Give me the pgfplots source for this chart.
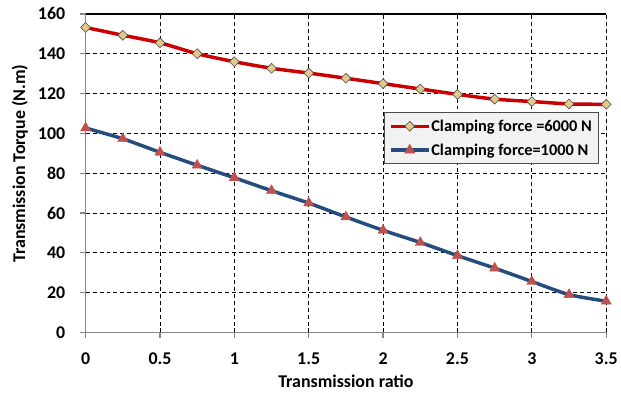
\documentclass[border=0pt]{standalone}
\usepackage{fontspec}
\setmainfont{Carlito}
\usepackage{pgfplots}
\pgfplotsset{compat=1.18}
\definecolor{redline}{RGB}{204,0,0}
\definecolor{blueline}{RGB}{36,76,124}
\definecolor{trifill}{RGB}{192,80,77}
\definecolor{diafill}{RGB}{228,200,140}
\definecolor{axgray}{RGB}{134,134,134}
\definecolor{legfill}{RGB}{242,242,242}
\begin{document}
\begin{tikzpicture}
\begin{axis}[
  name=ax,
  scale only axis,
  width=523pt, height=320pt,
  xmin=0, xmax=3.5, ymin=0, ymax=160,
  xtick={0,0.5,...,3.5}, ytick={0,20,...,160},
  axis lines*=left,
  axis line style={axgray, line width=1.2pt},
  tick style={axgray, line width=1.2pt},
  tick align=outside,
  major tick length=6pt,
  grid=major,
  major grid style={black, line width=0.9pt, dash pattern=on 4pt off 3pt},
  /pgf/number format/assume math mode=true,
  ticklabel style={font=\fontsize{18}{20}\selectfont\bfseries},
  xticklabel style={yshift=-11pt},
  yticklabel style={xshift=-11pt},
  xlabel={Transmission ratio},
  ylabel={Transmission Torque (N.m)},
  label style={font=\fontsize{18}{20}\selectfont\bfseries},
  xlabel style={at={(axis description cs:0.5,-0.153)}, anchor=center},
  ylabel style={at={(axis description cs:-0.126,0.53)}, anchor=center, rotate=0},
  legend style={at={(0.985,0.691)}, anchor=north east, fill=legfill, draw=black!70, line width=0.9pt,
    font=\fontsize{16.4}{18}\selectfont\bfseries, inner xsep=5pt, inner ysep=6pt, row sep=9pt,
    nodes={inner sep=1pt}},
  legend cell align=left,
  legend image code/.code={
    \draw[mark repeat=2, mark phase=2] plot coordinates {(0pt,0pt) (19pt,0pt) (38pt,0pt)};
  },
]
\addplot[redline, line width=3.5pt, smooth, tension=0.4,
  mark=square*, mark size=3.5pt,
  mark options={rotate=45, fill=diafill, draw=black!70, line width=0.6pt, solid}]
  coordinates {
  (0,153.2) (0.25,149.3) (0.5,145.5) (0.75,140.0) (1.0,136.0) (1.25,132.7)
  (1.5,130.3) (1.75,127.7) (2.0,125.0) (2.25,122.3) (2.5,119.6) (2.75,117.2)
  (3.0,116.0) (3.25,114.8) (3.5,114.6)
};
\addlegendentry{Clamping force =6000 N}
\addplot[blueline, line width=3.5pt, smooth, tension=0.4,
  mark=triangle*, mark size=6pt,
  mark options={fill=trifill, draw=trifill, line width=0.3pt, solid}]
  coordinates {
  (0,102.7) (0.25,97.3) (0.5,90.5) (0.75,84.0) (1.0,77.7) (1.25,71.2)
  (1.5,65.0) (1.75,58.0) (2.0,51.3) (2.25,45.2) (2.5,38.6) (2.75,32.3)
  (3.0,25.6) (3.25,19.0) (3.5,15.7)
};
\addlegendentry{Clamping force=1000 N}
\draw[black, line width=1.2pt] (rel axis cs:0,1) -- (rel axis cs:1,1) -- (rel axis cs:1,0);
\end{axis}
\path ([shift={(-86pt,-63pt)}]ax.south west) rectangle ([shift={(12pt,14pt)}]ax.north east);
\end{tikzpicture}
\end{document}
